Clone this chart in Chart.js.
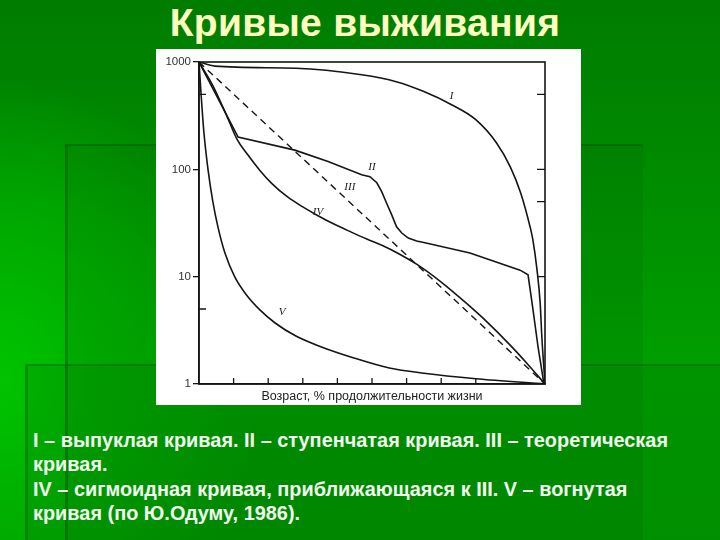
<!DOCTYPE html>
<html>
<head>
<meta charset="utf-8">
<script src="https://cdn.jsdelivr.net/npm/chart.js@4"></script>
<style>
  html, body { margin: 0; padding: 0; }
  body {
    width: 720px; height: 540px; overflow: hidden; position: relative;
    background:
      radial-gradient(ellipse 260px 300px at 0px 380px, #00c400 0%, #00b000 40%, rgba(0,160,0,0) 100%),
      linear-gradient(to bottom, #007c00 0%, #008a00 30%, #00a000 70%, #009a00 100%);
    font-family: "Liberation Sans", Arial, sans-serif;
  }
  .deco1 { position: absolute; left: 65px; top: 144px; width: 575px; height: 400px;
    background: rgba(0, 80, 0, 0.12); border-left: 3px solid rgba(0, 70, 0, 0.35); border-top: 2px solid rgba(0, 70, 0, 0.35); }
  .deco2 { position: absolute; left: 25px; top: 364px; width: 700px; height: 200px;
    background: rgba(0, 80, 0, 0.14); border-left: 3px solid rgba(0, 70, 0, 0.3); border-top: 2px solid rgba(0, 70, 0, 0.3); }
  h1 { position: absolute; left: 0; top: 1px; width: 730px; margin: 0; text-align: center;
    font: bold 39px "Liberation Sans", Arial, sans-serif; color: #ffffc0; letter-spacing: 0.3px; }
  #box { position: absolute; left: 156px; top: 49px; width: 425px; height: 356px; background: #fff; }
  .caption { position: absolute; left: 33px; top: 428px; white-space: nowrap;
    font: bold 21px "Liberation Sans", Arial, sans-serif; line-height: 24.3px; color: #f0fbee;
    transform-origin: 0 0; }
</style>
</head>
<body>
<div class="deco1"></div>
<div class="deco2"></div>
<h1>Кривые выживания</h1>
<div id="box"><canvas id="c" width="425" height="356"></canvas></div>
<div class="caption" id="cap"><span id="l1">I – выпуклая кривая. II – ступенчатая кривая. III – теоретическая</span><br>кривая.<br>IV – сигмоидная кривая, приближающаяся к III. V – вогнутая<br>кривая (по Ю.Одуму, 1986).</div>
<script>
// survival curves: age (% of lifespan) vs survivors (log scale)
const ageI  = [0, 4.6, 28, 47, 57, 65, 73, 80, 86, 90, 93, 95.7, 96.5, 97.7, 98.6, 99.1, 100];
const survI = [1000, 915, 875, 760, 655, 530, 400, 290, 176, 105, 60, 29, 22, 11.5, 5.7, 2.7, 1];

const ageII  = [0, 11.3, 27.7, 37.3, 47, 49.4, 51.4, 52.8, 54.2, 55.7, 57.1, 58.6, 60.5, 62.9, 65.3, 78.3, 92.8, 95.1, 96.5, 98, 99.7];
const survII = [1000, 200, 151, 118, 89, 85.5, 75, 62, 48.6, 37.6, 29.2, 25.5, 22.9, 21.5, 20.7, 16.6, 11.5, 10.4, 5.0, 2.2, 1];

const ageIII  = [0, 100];
const survIII = [1000, 1];

const ageIV  = [0, 4, 8, 11, 14, 17.6, 21, 25.7, 30, 34, 39, 44, 48.5, 53, 58, 63, 70, 77, 83, 90, 95, 100];
const survIV = [1000, 603, 316, 190, 138, 97.7, 74.1, 55, 44.7, 37.6, 30.9, 26, 22.4, 19.5, 16.2, 13.0, 8.9, 5.75, 3.85, 2.29, 1.53, 1];

const ageV  = [0, 0.6, 1.4, 2.6, 4, 5.5, 7.5, 10.3, 13.5, 17.6, 22, 28, 35, 45, 55, 65, 80, 100];
const survV = [1000, 501, 224, 100, 50, 28.8, 16.6, 10, 6.9, 4.9, 3.7, 2.8, 2.24, 1.74, 1.41, 1.26, 1.12, 1];

const yTicks = [1, 10, 100, 1000];
const leftMinorTicks = [500, 5];
const rightMinorTicks = [500, 100, 50, 10];
const xMinorTicks = [10, 20, 30, 40, 50, 60, 70, 80];

const curveNames = ['I', 'II', 'III', 'IV', 'V'];
const nameAge  = [73, 50, 43.6, 34.4, 24];
const nameSurv = [480, 105, 68, 40, 4.7];

// stretch the caption so its first line spans the same width as on the slide
const cap = document.getElementById('cap');
const w1 = document.getElementById('l1').getBoundingClientRect().width;
cap.style.transform = 'scaleX(' + (635 / w1) + ')';

function pts(ages, vals) {
  return ages.map((a, i) => ({ x: a, y: vals[i] }));
}

function curve(ages, vals, extra) {
  return Object.assign({
    data: pts(ages, vals),
    borderColor: '#151515',
    borderWidth: 1.6,
    pointRadius: 0,
    fill: false,
    cubicInterpolationMode: 'monotone'
  }, extra || {});
}

const framePlugin = {
  id: 'frame',
  afterDraw(chart) {
    const ctx = chart.ctx, a = chart.chartArea;
    const xs = chart.scales.x, ys = chart.scales.y;
    ctx.save();
    ctx.strokeStyle = '#151515';
    ctx.lineWidth = 1.6;
    ctx.strokeRect(a.left, a.top, a.right - a.left, a.bottom - a.top);
    ctx.lineWidth = 1.3;
    ctx.beginPath();
    leftMinorTicks.forEach(v => {
      const y = ys.getPixelForValue(v);
      ctx.moveTo(a.left, y); ctx.lineTo(a.left + 7, y);
    });
    rightMinorTicks.forEach(v => {
      const y = ys.getPixelForValue(v);
      ctx.moveTo(a.right, y); ctx.lineTo(a.right - 8, y);
    });
    xMinorTicks.forEach(v => {
      const x = xs.getPixelForValue(v);
      ctx.moveTo(x, a.bottom); ctx.lineTo(x, a.bottom - 6);
    });
    ctx.stroke();
    ctx.fillStyle = '#222';
    ctx.font = 'italic 11px "Liberation Serif", serif';
    ctx.textAlign = 'center';
    ctx.textBaseline = 'middle';
    curveNames.forEach((n, i) => {
      ctx.fillText(n, xs.getPixelForValue(nameAge[i]), ys.getPixelForValue(nameSurv[i]));
    });
    ctx.restore();
  }
};

new Chart(document.getElementById('c'), {
  type: 'line',
  data: {
    datasets: [
      curve(ageI, survI),
      curve(ageII, survII, { cubicInterpolationMode: 'default', tension: 0 }),
      curve(ageIII, survIII, { borderDash: [7, 5], borderWidth: 1.4 }),
      curve(ageIV, survIV),
      curve(ageV, survV)
    ]
  },
  options: {
    responsive: false,
    animation: false,
    layout: { padding: { top: 13, right: 36, left: 0, bottom: 0 } },
    plugins: { legend: { display: false }, tooltip: { enabled: false } },
    scales: {
      x: {
        type: 'linear', min: 0, max: 100,
        ticks: { display: false },
        grid: { drawOnChartArea: false, drawTicks: false },
        border: { color: '#151515', width: 1.6 },
        title: {
          display: true, text: 'Возраст, % продолжительности жизни',
          color: '#222', font: { size: 12.5, family: '"Liberation Sans", Arial' },
          padding: { top: 3, bottom: 1 }
        },
        afterFit(scale) { scale.height = 21; }
      },
      y: {
        type: 'logarithmic', min: 1, max: 1000,
        afterBuildTicks(scale) { scale.ticks = yTicks.map(v => ({ value: v })); },
        ticks: {
          color: '#333', padding: 2,
          font: { size: 11.5, family: '"Liberation Sans", Arial' },
          callback: v => String(v)
        },
        grid: { drawOnChartArea: false, drawTicks: true, tickLength: 6, color: '#151515', lineWidth: 1.3 },
        border: { color: '#151515', width: 1.6 },
        afterFit(scale) { scale.width = 43; }
      }
    }
  },
  plugins: [framePlugin]
});
</script>
</body>
</html>
